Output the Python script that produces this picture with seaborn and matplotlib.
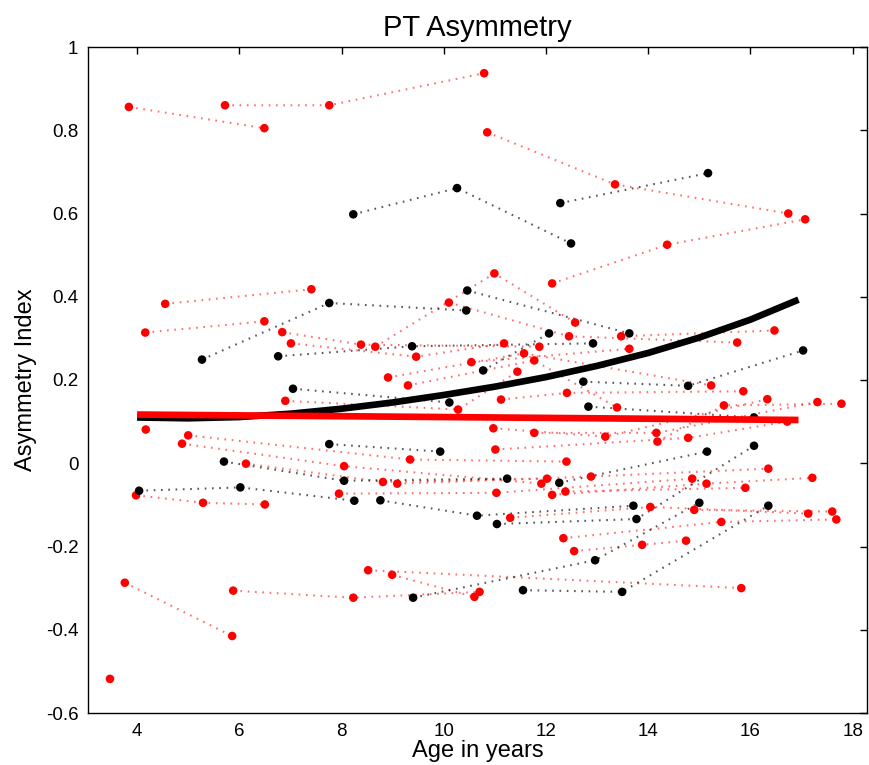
import pandas as pd
import seaborn as sns
import matplotlib.pyplot as plt

# Longitudinal scans, one list per subject (ages in years, asymmetry index)
red_ages = [
    [3.84, 6.49], [5.72, 7.76, 10.79], [10.85, 13.35, 16.74], [12.12, 14.37, 17.07],
    [4.55, 7.41], [4.16, 6.49], [6.84, 8.38, 11.87], [7.01, 9.46, 11.18],
    [8.66, 10.99, 12.57], [10.10, 12.45, 15.74], [13.47, 16.47], [10.54, 13.63],
    [8.91, 11.57, 15.23], [9.30, 11.77, 13.39], [6.90, 10.28, 11.44], [11.12, 12.41, 15.86],
    [10.97, 13.16, 16.33], [11.77, 14.16, 17.31], [14.18, 15.48, 17.78], [11.01, 14.78, 16.72],
    [4.17], [5.00, 9.34, 12.40], [4.88, 8.05, 11.91], [6.13, 8.81, 12.02],
    [9.09, 12.88, 16.35], [7.95, 11.03, 14.86], [3.98, 5.29, 6.50], [12.12, 15.14, 17.21],
    [12.38, 15.90], [11.30, 14.04, 17.13], [14.90, 17.60], [12.34, 15.43, 17.68],
    [12.55, 13.88, 14.74], [8.52, 15.82], [8.99, 10.60], [5.88, 8.23, 10.70],
    [3.76, 5.86], [3.47],
]
red_vals = [
    [0.856, 0.805], [0.860, 0.860, 0.937], [0.795, 0.670, 0.600], [0.432, 0.525, 0.586],
    [0.383, 0.418], [0.314, 0.341], [0.315, 0.285, 0.280], [0.288, 0.256, 0.288],
    [0.280, 0.456, 0.338], [0.386, 0.305, 0.290], [0.305, 0.319], [0.243, 0.275],
    [0.206, 0.264, 0.187], [0.187, 0.247, 0.134], [0.150, 0.129, 0.220], [0.153, 0.169, 0.173],
    [0.084, 0.064, 0.154], [0.073, 0.073, 0.147], [0.052, 0.139, 0.143], [0.033, 0.061, 0.100],
    [0.081], [0.067, 0.009, 0.004], [0.047, -0.007, -0.049], [-0.001, -0.045, -0.037],
    [-0.049, -0.032, -0.013], [-0.073, -0.071, -0.037], [-0.077, -0.095, -0.099], [-0.076, -0.049, -0.035],
    [-0.068, -0.059], [-0.131, -0.105, -0.121], [-0.112, -0.116], [-0.180, -0.141, -0.135],
    [-0.211, -0.196, -0.186], [-0.257, -0.300], [-0.268, -0.321], [-0.306, -0.323, -0.309],
    [-0.287, -0.415], [-0.518],
]

black_ages = [
    [8.23, 10.26, 12.49], [12.28, 15.17], [5.27, 7.76, 10.44], [10.46, 13.63],
    [6.76, 9.38, 12.92], [12.73, 14.78, 17.03], [10.77, 12.06], [7.05, 10.11],
    [12.83, 16.07], [7.76, 9.93], [5.70, 8.05, 11.24], [4.04, 6.02, 8.25],
    [8.76, 10.65, 13.71], [11.04, 13.77, 16.07], [12.26, 15.15], [9.40, 12.96, 15.00],
    [11.55, 13.49, 16.35],
]
black_vals = [
    [0.598, 0.661, 0.528], [0.625, 0.697], [0.249, 0.385, 0.367], [0.415, 0.312],
    [0.257, 0.281, 0.288], [0.196, 0.186, 0.271], [0.223, 0.312], [0.179, 0.146],
    [0.136, 0.110], [0.046, 0.028], [0.004, -0.042, -0.037], [-0.066, -0.058, -0.090],
    [-0.089, -0.126, -0.102], [-0.146, -0.134, 0.042], [-0.047, 0.028], [-0.323, -0.233, -0.095],
    [-0.305, -0.309, -0.102],
]

# group trend curves
black_fit_ages = [4, 5, 6, 7, 8, 9, 10, 11, 12, 13, 14, 15, 16, 16.94]
black_fit_vals = [0.110, 0.108, 0.111, 0.119, 0.131, 0.146, 0.164, 0.184, 0.207, 0.234, 0.265, 0.302, 0.345, 0.393]
red_fit_ages = [4.0, 16.94]
red_fit_vals = [0.117, 0.104]

rows = []
sid = 0
for grp, ages_list, vals_list in [('red', red_ages, red_vals), ('black', black_ages, black_vals)]:
    for ages, vals in zip(ages_list, vals_list):
        for a, v in zip(ages, vals):
            rows.append({'subject': sid, 'group': grp, 'age': a, 'asym': v})
        sid += 1
df = pd.DataFrame(rows)

sns.set_theme(style="white")
plt.rcParams['font.family'] = ['Liberation Sans', 'DejaVu Sans']
plt.rcParams['text.color'] = 'black'
plt.rcParams['axes.labelcolor'] = 'black'

fig = plt.figure(figsize=(8.7, 7.65), dpi=100)
ax = fig.add_axes([88 / 870, 52 / 765, 779 / 870, 666 / 765])

line_palette = {'red': (1.0, 0.2, 0.2, 0.7), 'black': (0.0, 0.0, 0.0, 0.65)}
dot_palette = {'red': '#ff0000', 'black': '#000000'}

sns.lineplot(data=df, x='age', y='asym', hue='group', units='subject', estimator=None,
             palette=line_palette, linewidth=1.5, linestyle=(0, (0.8, 2.7)),
             legend=False, ax=ax)
sns.scatterplot(data=df, x='age', y='asym', hue='group', palette=dot_palette,
                s=38, edgecolor='none', legend=False, ax=ax, zorder=3)

ax.plot(black_fit_ages, black_fit_vals, color='black', linewidth=4.8,
        solid_capstyle='butt', zorder=4)
ax.plot(red_fit_ages, red_fit_vals, color='#ff0000', linewidth=4.8,
        solid_capstyle='butt', zorder=5)

ax.set_xlim(3.04, 18.28)
ax.set_ylim(-0.6, 1.0)
ax.set_xticks([4, 6, 8, 10, 12, 14, 16, 18])
ax.set_yticks([-0.6, -0.4, -0.2, 0, 0.2, 0.4, 0.6, 0.8, 1])
ax.set_yticklabels(['-0.6', '-0.4', '-0.2', '0', '0.2', '0.4', '0.6', '0.8', '1'])
ax.tick_params(direction='in', length=5, width=1, top=True, right=True,
               labelsize=13.5, colors='black', pad=7)
for sp in ax.spines.values():
    sp.set_color('black')
    sp.set_linewidth(1)

ax.set_title('PT Asymmetry', fontsize=21, pad=8, color='black')
ax.set_xlabel('Age in years', fontsize=17, labelpad=0)
ax.set_ylabel('Asymmetry Index', fontsize=17, labelpad=6)

plt.savefig('out.png', dpi=100)
plt.close()
